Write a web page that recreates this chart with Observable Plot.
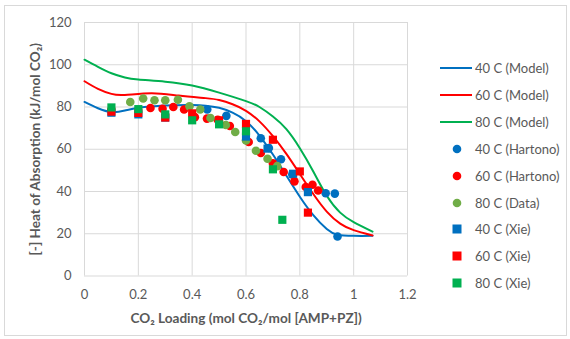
<!DOCTYPE html>
<html>
<head>
<meta charset="utf-8">
<script src="https://cdn.jsdelivr.net/npm/d3@7"></script>
<script src="https://cdn.jsdelivr.net/npm/@observablehq/plot@0.6"></script>
<style>
  body { margin: 0; background: #fff; }
  #wrap { position: relative; width: 570px; height: 339px; font-family: Lato, "Open Sans", sans-serif; }
  #frame { position: absolute; left: 4px; top: 5px; width: 563px; height: 331px; border: 1px solid #d9d9d9; box-sizing: border-box; pointer-events: none; }
  #chart { position: absolute; left: 0; top: 0; }
  #legend { position: absolute; left: 438px; top: 0; }
  .li { position: absolute; left: 0; height: 20px; display: flex; align-items: center; white-space: nowrap; font-size: 13px; color: #595959; }
  .li svg { margin-right: 3px; }
  svg [aria-label="x-axis label"] text, svg [aria-label="y-axis label"] text { font-weight: bold; font-size: 13.6px; }
</style>
</head>
<body>
<div id="wrap">
  <div id="chart"></div>
  <div id="legend"></div>
  <div id="frame"></div>
</div>
<script>
// ---- Data ----
const xTicks = [0, 0.2, 0.4, 0.6, 0.8, 1, 1.2];
const yTicks = [0, 20, 40, 60, 80, 100, 120];

const model40 = [[0,82.4],[0.05,79.4],[0.1,77.6],[0.15,78.3],[0.2,79.6],[0.3,80.7],[0.4,80.9],[0.45,80.6],[0.5,79.6],[0.55,77.3],[0.6,73.3],[0.65,66.5],[0.7,57.5],[0.75,47.5],[0.8,37.5],[0.85,28.8],[0.9,22.2],[0.94,19.5],[1.0,19],[1.07,19]];
const model60 = [[0,92.2],[0.05,88.6],[0.1,86.2],[0.15,85.7],[0.25,86.5],[0.35,85.4],[0.45,84.2],[0.5,83.3],[0.55,81.3],[0.6,78.2],[0.65,73.2],[0.7,66.2],[0.75,57.8],[0.8,48.3],[0.85,38.8],[0.9,30.5],[0.95,24.8],[1.0,21.7],[1.07,19.2]];
const model80 = [[0,102.4],[0.05,99],[0.1,96],[0.15,94],[0.2,93],[0.3,92],[0.4,90.2],[0.5,86.8],[0.6,82.8],[0.65,80],[0.7,75.5],[0.75,69.5],[0.8,60.5],[0.85,49.5],[0.9,38],[0.95,30],[1.0,25.5],[1.07,21]];

const hartono40 = [[0.456,78.8],[0.527,75.8],[0.655,65.2],[0.685,60.6],[0.73,55.3],[0.772,48.1],[0.896,39.2],[0.93,39],[0.94,18.7]];
const hartono60 = [[0.245,79.5],[0.29,79.2],[0.33,80],[0.37,78.8],[0.41,75.2],[0.455,74.5],[0.495,74],[0.54,71],[0.61,63.4],[0.655,58.2],[0.7,53.3],[0.74,49.2],[0.78,44.8],[0.822,42.1],[0.847,43.2],[0.868,40.5]];
const data80 = [[0.17,82.4],[0.218,84],[0.26,83.2],[0.3,83.2],[0.347,83.4],[0.39,80.3],[0.43,78.8],[0.468,74.8],[0.525,71.5],[0.56,68.2],[0.6,64.2],[0.637,59.3],[0.68,55.5],[0.716,52]];

const xie40 = [[0.1,77.3],[0.2,76.5],[0.3,75],[0.6,66],[0.68,60.3],[0.775,48.4],[0.83,39.7]];
const xie60 = [[0.1,77.8],[0.2,77.2],[0.3,75],[0.4,77],[0.5,73.7],[0.6,72],[0.7,64.5],[0.8,49.5],[0.83,30]];
const xie80 = [[0.1,79.8],[0.2,79],[0.3,76.5],[0.4,73.7],[0.5,71.8],[0.6,68.5],[0.7,50.5],[0.735,26.6]];

const seriesNames = ["40 C (Model)","60 C (Model)","80 C (Model)","40 C (Hartono)","60 C (Hartono)","80 C (Data)","40 C (Xie)","60 C (Xie)","80 C (Xie)"];
const seriesColors = ["#0070C0","#FF0000","#00B050","#0070C0","#FF0000","#70AD47","#0070C0","#FF0000","#00B050"];
const seriesKinds = ["line","line","line","circle","circle","circle","square","square","square"];
const seriesData = [model40, model60, model80, hartono40, hartono60, data80, xie40, xie60, xie80];

// ---- Marks ----
const marks = [
  Plot.gridX(xTicks, {stroke: "#d9d9d9", strokeOpacity: 1}),
  Plot.gridY(yTicks, {stroke: "#d9d9d9", strokeOpacity: 1})
];
seriesData.forEach((d, i) => {
  const kind = seriesKinds[i], c = seriesColors[i];
  if (kind === "line") {
    marks.push(Plot.line(d, {x: "0", y: "1", stroke: c, strokeWidth: 2, curve: "natural"}));
  }
});
seriesData.forEach((d, i) => {
  const kind = seriesKinds[i], c = seriesColors[i];
  if (kind === "circle") {
    marks.push(Plot.dot(d, {x: "0", y: "1", fill: c, r: 4.3, symbol: "circle"}));
  } else if (kind === "square") {
    marks.push(Plot.dot(d, {x: "0", y: "1", fill: c, r: 4.6, symbol: "square"}));
  }
});
marks.push(Plot.axisX(xTicks, {tickSize: 0, tickPadding: 14, tickFormat: d => String(d), label: "CO₂ Loading (mol CO₂/mol [AMP+PZ])", labelAnchor: "center", labelOffset: 47, labelArrow: "none"}));
marks.push(Plot.axisY(yTicks, {tickSize: 0, tickPadding: 13, label: "[-] Heat of Absorption (kJ/mol CO₂)", labelAnchor: "center", labelOffset: 54, labelArrow: "none"}));

const chart = Plot.plot({
  width: 430,
  height: 339,
  marginLeft: 84,
  marginRight: 23,
  marginTop: 22,
  marginBottom: 63.5,
  style: {fontFamily: "Lato, 'Open Sans', sans-serif", fontSize: "13px", color: "#595959", background: "transparent"},
  x: {domain: [0, 1.2]},
  y: {domain: [0, 120]},
  marks
});
document.getElementById("chart").appendChild(chart);

// ---- Legend ----
const legend = document.getElementById("legend");
const legendTop = 68, legendStep = 26.9;
seriesNames.forEach((name, i) => {
  const row = document.createElement("div");
  row.className = "li";
  row.style.top = (legendTop + i * legendStep - 10) + "px";
  const c = seriesColors[i], kind = seriesKinds[i];
  let sym;
  if (kind === "line") sym = `<svg width="34" height="20"><line x1="2" y1="10" x2="34" y2="10" stroke="${c}" stroke-width="2"/></svg>`;
  else if (kind === "circle") sym = `<svg width="34" height="20"><circle cx="19" cy="10" r="4.3" fill="${c}"/></svg>`;
  else sym = `<svg width="34" height="20"><rect x="14.5" y="5.5" width="9" height="9" fill="${c}"/></svg>`;
  row.innerHTML = sym + `<span>${name}</span>`;
  legend.appendChild(row);
});
</script>
</body>
</html>
